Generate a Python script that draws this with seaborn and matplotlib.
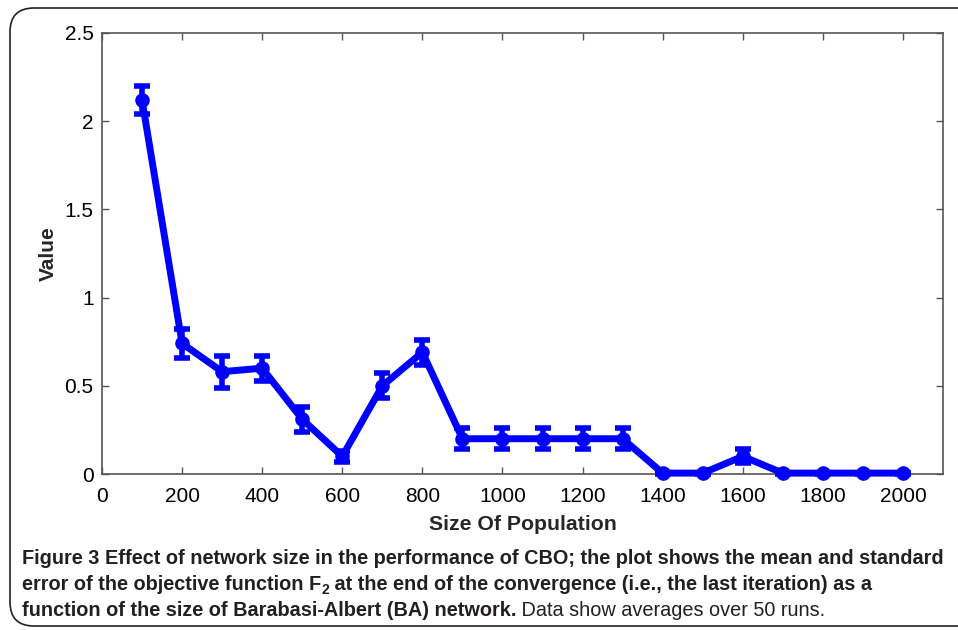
import matplotlib
matplotlib.use("Agg")
import matplotlib.pyplot as plt
from matplotlib.patches import FancyBboxPatch
import numpy as np
import pandas as pd
import seaborn as sns

# Population sizes and the mean / standard error of F2 at the last iteration
population = [100, 200, 300, 400, 500, 600, 700, 800, 900, 1000,
              1100, 1200, 1300, 1400, 1500, 1600, 1700, 1800, 1900, 2000]
mean_value = [2.12, 0.74, 0.58, 0.60, 0.31, 0.10, 0.50, 0.69, 0.20, 0.20,
              0.20, 0.20, 0.20, 0.005, 0.005, 0.10, 0.005, 0.005, 0.005, 0.005]
std_error = [0.08, 0.08, 0.09, 0.07, 0.07, 0.03, 0.07, 0.07, 0.06, 0.06,
             0.06, 0.06, 0.06, 0.003, 0.003, 0.04, 0.003, 0.003, 0.003, 0.003]
x_ticks = [0, 200, 400, 600, 800, 1000, 1200, 1400, 1600, 1800, 2000]
y_ticks = [0, 0.5, 1, 1.5, 2, 2.5]
y_tick_labels = ["0", "0.5", "1", "1.5", "2", "2.5"]

df = pd.DataFrame({"Size Of Population": population, "Value": mean_value, "err": std_error})

sns.set_theme(style="white")
plt.rcParams["font.family"] = ["Liberation Sans", "DejaVu Sans"]

W, H = 958, 630
fig = plt.figure(figsize=(W / 100, H / 100), dpi=100)

# rounded frame around the figure and its caption
frame = FancyBboxPatch((10 / W, 4 / H), 1.2, (H - 12) / H,
                       boxstyle="round,pad=0,rounding_size=0.025",
                       transform=fig.transFigure, fill=False,
                       edgecolor="#222222", linewidth=1.2, mutation_aspect=W / H)
fig.patches.append(frame)

ax = fig.add_axes([102 / W, 1 - 474 / H, (943 - 102) / W, (474 - 33) / H])

blue = "#0000ff"
ax.errorbar(df["Size Of Population"], df["Value"], yerr=df["err"], fmt="none",
            ecolor=blue, elinewidth=4, capsize=5.5, capthick=4, zorder=3,
            clip_on=False)
sns.lineplot(data=df, x="Size Of Population", y="Value", ax=ax, color=blue,
             linewidth=5, marker="o", markersize=10.5, markeredgecolor=blue,
             markeredgewidth=0, zorder=4, clip_on=False)

ax.set_xlim(0, 2100)
ax.set_ylim(0, 2.5)
ax.set_xticks(x_ticks)
ax.set_xticklabels([str(t) for t in x_ticks])
ax.set_yticks(y_ticks)
ax.set_yticklabels(y_tick_labels)
ax.tick_params(direction="in", length=5, width=1, colors="#555555",
               labelcolor="black", labelsize=15, top=True, right=True,
               bottom=True, left=True)
ax.tick_params(axis="x", pad=9)
ax.tick_params(axis="y", pad=6)
for s in ax.spines.values():
    s.set_visible(True)
    s.set_color("#555555")
    s.set_linewidth(1.2)

ax.set_xlabel("Size Of Population", fontsize=15.3, fontweight="bold", labelpad=7)
ax.set_ylabel("Value", fontsize=15, fontweight="bold", labelpad=5)

# caption, drawn as consecutive runs of text
cap_family = ["Liberation Sans", "DejaVu Sans"]
cap_size = 14.3
fig.canvas.draw()
renderer = fig.canvas.get_renderer()


def caption_line(x_px, y_px, runs):
    x = x_px
    for text, weight, size, dy in runs:
        t = fig.text(x / W, 1 - (y_px + dy) / H, text, fontsize=size,
                     fontweight=weight, family=cap_family, color="#231f20",
                     ha="left", va="baseline")
        bb = t.get_window_extent(renderer=renderer)
        x += bb.width


caption_line(22, 564, [("Figure 3 ", "bold", cap_size, 0),
                       ("Effect of network size in the performance of CBO; the plot shows the mean and standard",
                        "bold", cap_size, 0)])
caption_line(22, 590, [("error of the objective function F", "bold", cap_size, 0),
                       ("2", "bold", cap_size * 0.7, 4),
                       (" at the end of the convergence (i.e., the last iteration) as a", "bold", cap_size, 0)])
caption_line(22, 616, [("function of the size of Barabasi-Albert (BA) network.", "bold", cap_size, 0),
                       (" Data show averages over 50 runs.", "normal", cap_size, 0)])

fig.savefig("out.png", dpi=100)
